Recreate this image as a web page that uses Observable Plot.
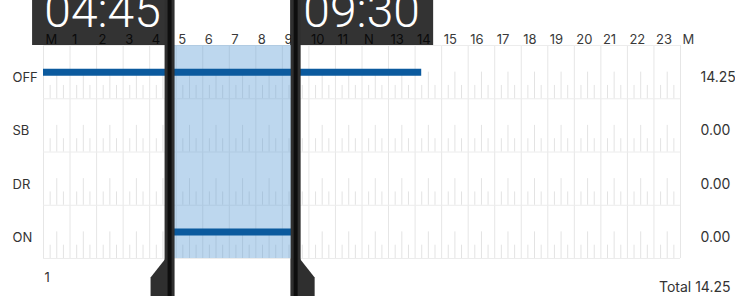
<!DOCTYPE html>
<html>
<head>
<meta charset="utf-8">
<script src="https://cdn.jsdelivr.net/npm/d3@7"></script>
<script src="https://cdn.jsdelivr.net/npm/@observablehq/plot@0.6"></script>
<style>
  html, body { margin: 0; padding: 0; background: #fff; }
  #chart { width: 735px; height: 296px; overflow: hidden; }
</style>
</head>
<body>
<div id="chart"></div>
<script>
// ---- data ----
const statuses = ["OFF", "SB", "DR", "ON"];
const statusTotals = ["14.25", "0.00", "0.00", "0.00"];
const hourLabels = ["M","1","2","3","4","5","6","7","8","9","10","11","N",
                    "13","14","15","16","17","18","19","20","21","22","23","M"];
const segStatus = ["OFF", "ON"];
const segStart = [0, 4.75];
const segEnd = [14.25, 9.5];
const selection = [4.75, 9.5];
const selectionLabels = ["04:45", "09:30"];
const dayLabel = "1";
const totalLabel = "Total 14.25";

// ---- derived tables ----
const hours = hourLabels.map((_, i) => i);
const rows = statuses.map((s, i) => ({s, i, total: statusTotals[i]}));
const segments = segStatus.map((s, k) => ({row: statuses.indexOf(s), x1: segStart[k], x2: segEnd[k]}));
const quarterTicks = [];
statuses.forEach((s, i) => {
  for (let h = 0; h < 24; h++) {
    for (const q of [0.25, 0.5, 0.75]) {
      quarterTicks.push({x: h + q, y1: i + 1, y2: i + 1 - (q === 0.5 ? 0.5 : 0.25)});
    }
  }
});

const font = "Inter, 'Noto Sans', sans-serif";

const flareLeft = {draw(ctx) {
  ctx.moveTo(-4, 0); ctx.lineTo(-19, 19); ctx.lineTo(-19, 40); ctx.lineTo(4, 40); ctx.lineTo(4, 0); ctx.closePath();
}};
const flareRight = {draw(ctx) {
  ctx.moveTo(4, 0); ctx.lineTo(19, 19); ctx.lineTo(19, 40); ctx.lineTo(-5, 40); ctx.lineTo(-5, 0); ctx.closePath();
}};

const chart = Plot.plot({
  width: 735,
  height: 296,
  marginTop: 45,
  marginBottom: 38,
  marginLeft: 43,
  marginRight: 55,
  style: {fontFamily: font, background: "#fff", overflow: "hidden"},
  x: {domain: [0, 24], range: [43, 680], axis: null},
  y: {domain: [0, 4], range: [45, 258], axis: null},
  marks: [
    // grid
    Plot.ruleX(hours, {x: d => d, y1: 0, y2: 4, stroke: "#e6e6e6", strokeWidth: 1}),
    Plot.ruleY([0, 1, 2, 3, 4], {y: d => d, x1: 0, x2: 24, stroke: "#ececec", strokeWidth: 1}),
    Plot.ruleX(quarterTicks, {x: "x", y1: "y1", y2: "y2", stroke: "#e3e3e3", strokeWidth: 1}),
    // selection highlight
    Plot.rect([selection], {x1: d => d[0], x2: d => d[1], fill: "#5b9bd5", fillOpacity: 0.4}),
    // status bars
    Plot.ruleY(segments, {y: d => d.row + 0.5, x1: "x1", x2: "x2", stroke: "#0b5a9e", strokeWidth: 7}),
    // hour labels
    Plot.text(hourLabels, {x: (d, i) => i, y: () => 0, text: d => d, textAnchor: "start", lineAnchor: "bottom",
      dx: 2, dy: -2, fontSize: 13, fill: "#3a3a3a"}),
    // row labels
    Plot.text(rows, {frameAnchor: "left", y: d => d.i + 0.5, text: "s", textAnchor: "start", lineAnchor: "bottom",
      dx: -31, dy: 10, fontSize: 13, fill: "#333"}),
    // row totals
    Plot.text(rows, {frameAnchor: "right", y: d => d.i + 0.5, text: "total", textAnchor: "start", lineAnchor: "bottom",
      dx: 20, dy: 10, fontSize: 14, fill: "#333"}),
    // day label & total
    Plot.text([dayLabel], {frameAnchor: "bottom-left", text: d => d, textAnchor: "start", lineAnchor: "bottom",
      dx: 1, dy: 23, fontSize: 13, fill: "#333"}),
    Plot.text([totalLabel], {frameAnchor: "bottom-right", text: d => d, textAnchor: "end", lineAnchor: "bottom",
      dx: 50, dy: 33, fontSize: 14, fill: "#333"}),
    // time boxes
    Plot.rect([selection[0]], {x1: d => d, x2: d => d, y1: () => 0, y2: () => 0,
      insetLeft: -137, insetRight: -4, insetTop: -45, fill: "#000", fillOpacity: 0.8}),
    Plot.rect([selection[1]], {x1: d => d, x2: d => d, y1: () => 0, y2: () => 0,
      insetLeft: -5, insetRight: -138, insetTop: -45, fill: "#000", fillOpacity: 0.8}),
    Plot.text([0], {x: () => selection[0], y: () => 0, text: () => selectionLabels[0], dx: -67, dy: -19,
      lineAnchor: "bottom", textAnchor: "middle", fontSize: 48, fontWeight: 300, fontFamily: "Roboto",
      letterSpacing: "-1px", fill: "#fff"}),
    Plot.text([1], {x: () => selection[1], y: () => 0, text: () => selectionLabels[1], dx: 66, dy: -19,
      lineAnchor: "bottom", textAnchor: "middle", fontSize: 48, fontWeight: 300, fontFamily: "Roboto",
      letterSpacing: "-1px", fill: "#fff"}),
    // handles
    Plot.ruleX(selection, {x: d => d, insetTop: -45, insetBottom: -38, stroke: "#2f2f2f", strokeWidth: 10}),
    Plot.dot([selection[0]], {x: d => d, y: () => 4, r: 1, symbol: flareLeft, fill: "#2f2f2f", stroke: null}),
    Plot.dot([selection[1]], {x: d => d, y: () => 4, r: 1, symbol: flareRight, fill: "#2f2f2f", stroke: null}),
    Plot.ruleX(selection, {x: d => d, insetTop: -45, insetBottom: -38, stroke: "#0e0e0e", strokeWidth: 4})
  ]
});
document.getElementById("chart").appendChild(chart);
</script>
</body>
</html>
